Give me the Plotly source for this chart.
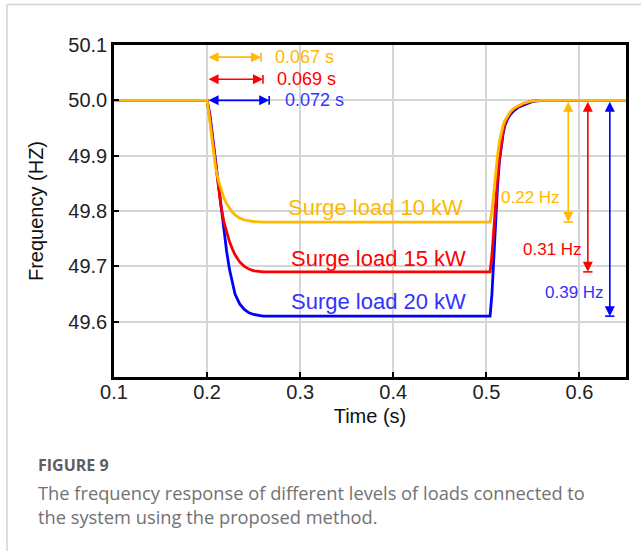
import plotly.graph_objects as go

# ---- data ----
time_s = [0.1, 0.2, 0.203, 0.206, 0.209, 0.212, 0.215, 0.218, 0.221, 0.224, 0.227, 0.23,
          0.235, 0.24, 0.245, 0.25, 0.26, 0.28, 0.3, 0.4, 0.504, 0.506, 0.508, 0.51, 0.512,
          0.514, 0.516, 0.518, 0.52, 0.523, 0.526, 0.53, 0.535, 0.54, 0.545, 0.55, 0.56,
          0.58, 0.65]
freq_10kw = [50.0, 50.0, 49.962, 49.915, 49.88, 49.856, 49.838, 49.824, 49.813, 49.805, 49.798, 49.793,
             49.787, 49.784, 49.782, 49.781, 49.78, 49.78, 49.78, 49.78, 49.78, 49.80, 49.835, 49.87, 49.90,
             49.925, 49.943, 49.955, 49.964, 49.973, 49.98, 49.986, 49.991, 49.995, 49.997, 49.999, 50.0,
             50.0, 50.0]
freq_15kw = [50.0, 50.0, 49.968, 49.928, 49.88, 49.84, 49.807, 49.781, 49.761, 49.745, 49.732, 49.721,
             49.708, 49.7, 49.695, 49.692, 49.69, 49.69, 49.69, 49.69, 49.69, 49.72, 49.77, 49.815, 49.86,
             49.895, 49.925, 49.945, 49.958, 49.97, 49.978, 49.985, 49.99, 49.994, 49.997, 49.999, 50.0,
             50.0, 50.0]
freq_20kw = [50.0, 50.0, 49.975, 49.932, 49.888, 49.845, 49.802, 49.763, 49.727, 49.695, 49.669, 49.65,
             49.632, 49.622, 49.616, 49.613, 49.61, 49.61, 49.61, 49.61, 49.61, 49.65, 49.72, 49.785, 49.845,
             49.89, 49.92, 49.94, 49.955, 49.967, 49.975, 49.982, 49.988, 49.992, 49.995, 49.998, 50.0,
             50.0, 50.0]

series_names = ["Surge load 10 kW", "Surge load 15 kW", "Surge load 20 kW"]
series_colors = ["#FFB900", "#FF0000", "#0000FF"]
text_colors = ["#FFB900", "#FF0000", "#3333FF"]
delay_labels = ["0.067 s", "0.069 s", "0.072 s"]
delay_end = [0.258, 0.260, 0.2667]
delay_y = [50.078, 50.038, 50.0]
delay_label_x = [0.271, 0.273, 0.2817]
dev_labels = ["0.22 Hz", "0.31 Hz", "0.39 Hz"]
dev_x = [0.588, 0.609, 0.6326]
dev_bottom = [49.78, 49.69, 49.61]
dev_label_x = [0.5817, 0.6054, 0.629]
dev_label_y = [49.824, 49.731, 49.652]
name_x = [0.285, 0.2885, 0.2885]
name_y = [49.807, 49.715, 49.636]

x_ticks = [0.1, 0.2, 0.3, 0.4, 0.5, 0.6]
y_ticks = [49.6, 49.7, 49.8, 49.9, 50.0, 50.1]

FONT = "Liberation Sans, Arial, sans-serif"

fig = go.Figure()
ys = [freq_10kw, freq_15kw, freq_20kw]
for i in [2, 1, 0]:
    fig.add_trace(go.Scatter(x=time_s, y=ys[i], mode="lines", name=series_names[i],
                             line=dict(color=series_colors[i], width=2.8)))

annotations = []
shapes = []
for i in range(3):
    c = series_colors[i]
    tc = text_colors[i]
    # horizontal delay arrows
    annotations.append(dict(x=delay_end[i], y=delay_y[i], ax=0.2, ay=delay_y[i],
                            xref="x", yref="y", axref="x", ayref="y", text="",
                            showarrow=True, arrowside="end+start", arrowhead=2,
                            arrowsize=1.25, arrowwidth=1.6, arrowcolor=c, standoff=0, startstandoff=0))
    shapes.append(dict(type="line", xref="x", yref="y", x0=delay_end[i], x1=delay_end[i],
                       y0=delay_y[i] - 0.008, y1=delay_y[i] + 0.008, line=dict(color=c, width=1.6)))
    annotations.append(dict(x=delay_label_x[i], y=delay_y[i], xref="x", yref="y", text=delay_labels[i],
                            showarrow=False, xanchor="left", yanchor="middle",
                            font=dict(family=FONT, size=18, color=tc)))
    # vertical deviation arrows
    annotations.append(dict(x=dev_x[i], y=dev_bottom[i], ax=dev_x[i], ay=50.0,
                            xref="x", yref="y", axref="x", ayref="y", text="",
                            showarrow=True, arrowside="end+start", arrowhead=2,
                            arrowsize=1.25, arrowwidth=1.6, arrowcolor=c, standoff=0, startstandoff=0))
    shapes.append(dict(type="line", xref="x", yref="y", x0=dev_x[i] - 0.005, x1=dev_x[i] + 0.005,
                       y0=dev_bottom[i], y1=dev_bottom[i], line=dict(color=c, width=1.6)))
    annotations.append(dict(x=dev_label_x[i], y=dev_label_y[i], xref="x", yref="y", text=dev_labels[i],
                            showarrow=False, xanchor="right", yanchor="middle",
                            font=dict(family=FONT, size=17, color=tc)))
    # series names
    annotations.append(dict(x=name_x[i], y=name_y[i], xref="x", yref="y", text=series_names[i],
                            showarrow=False, xanchor="left", yanchor="middle",
                            font=dict(family=FONT, size=22, color=tc)))

# page frame lines
shapes.append(dict(type="line", xref="paper", yref="paper", x0=-0.209, x1=1.03, y0=1.122, y1=1.122,
                   line=dict(color="#d3d3d3", width=1.5)))
shapes.append(dict(type="line", xref="paper", yref="paper", x0=-0.209, x1=-0.209, y0=1.122, y1=-0.53,
                   line=dict(color="#d3d3d3", width=1.5)))

CAP = "Open Sans, Noto Sans, sans-serif"
annotations.append(dict(x=-0.152, y=-0.265, xref="paper", yref="paper", text="<b>FIGURE 9</b>",
                        showarrow=False, xanchor="left", yanchor="middle",
                        font=dict(family=CAP, size=16, color="#5e5e5e")))
annotations.append(dict(x=-0.152, y=-0.349, xref="paper", yref="paper",
                        text="The frequency response of different levels of loads connected to",
                        showarrow=False, xanchor="left", yanchor="middle",
                        font=dict(family=CAP, size=18.3, color="#727272")))
annotations.append(dict(x=-0.152, y=-0.419, xref="paper", yref="paper",
                        text="the system using the proposed method.",
                        showarrow=False, xanchor="left", yanchor="middle",
                        font=dict(family=CAP, size=18.3, color="#727272")))

fig.update_layout(
    width=641, height=551,
    margin=dict(l=114, r=15, t=45, b=174),
    paper_bgcolor="white", plot_bgcolor="white",
    showlegend=False,
    font=dict(family=FONT, size=20, color="#222"),
    annotations=annotations, shapes=shapes,
)
fig.update_xaxes(range=[0.1, 0.65], tickvals=x_ticks, ticktext=[f"{v:.1f}" for v in x_ticks],
                 showgrid=True, gridcolor="#d6d6d6", gridwidth=1.5,
                 showline=True, linecolor="black", linewidth=2.5, mirror=True,
                 ticks="inside", ticklen=5, tickcolor="black", tickwidth=1.5,
                 ticklabelstandoff=-5,
                 tickfont=dict(family=FONT, size=20, color="#222"), zeroline=False,
                 title=dict(text="Time (s)", font=dict(family=FONT, size=20, color="#111"), standoff=8))
fig.update_yaxes(range=[49.5, 50.1], tickvals=y_ticks, ticktext=[f"{v:.1f}" for v in y_ticks],
                 showgrid=True, gridcolor="#d6d6d6", gridwidth=1.5,
                 showline=True, linecolor="black", linewidth=2.5, mirror=True,
                 ticks="inside", ticklen=5, tickcolor="black", tickwidth=1.5,
                 tickfont=dict(family=FONT, size=20, color="#222"), zeroline=False,
                 title=dict(text="Frequency (HZ)", font=dict(family=FONT, size=20, color="#111"), standoff=20))

fig.write_html("out.html")
